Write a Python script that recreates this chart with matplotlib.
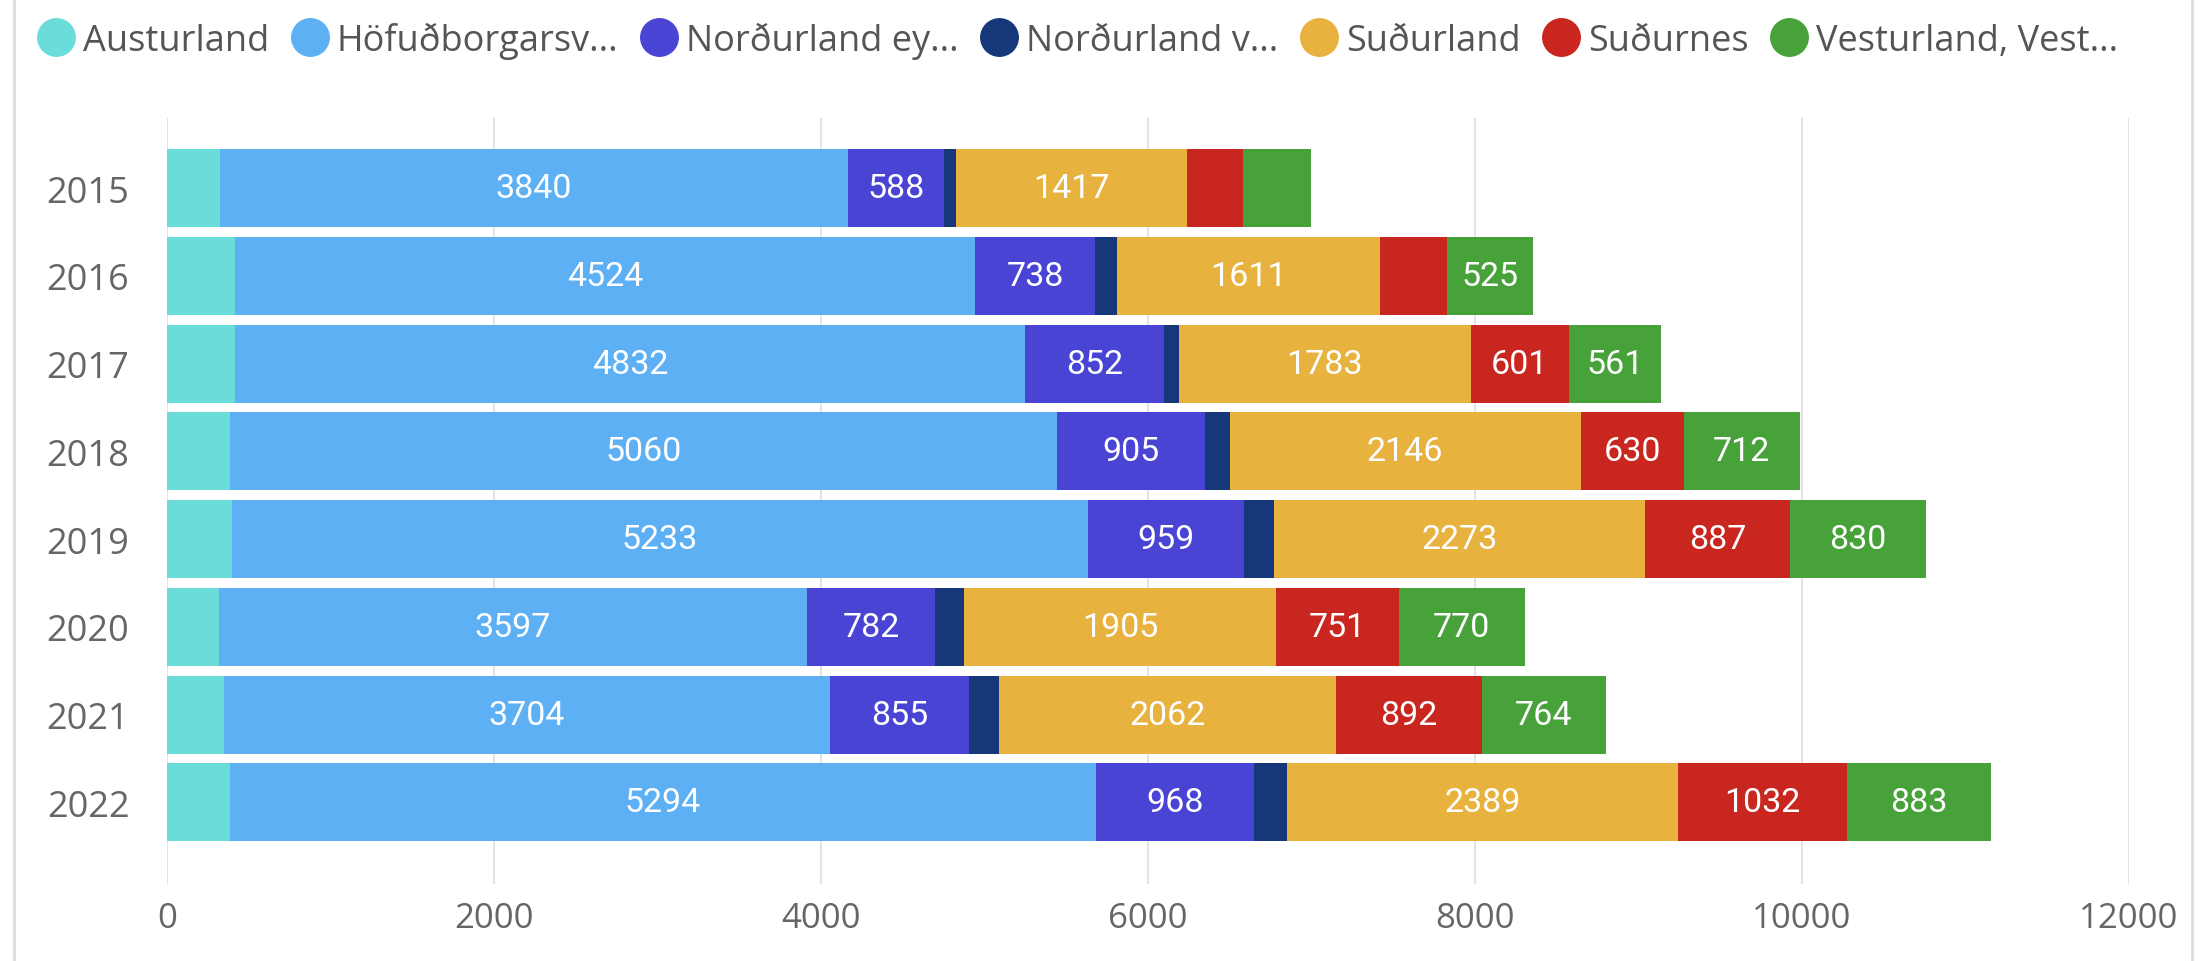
import matplotlib
matplotlib.use("Agg")
import matplotlib.pyplot as plt
from matplotlib.lines import Line2D
import numpy as np

years = ["2015", "2016", "2017", "2018", "2019", "2020", "2021", "2022"]
series_names = ["Austurland", "Höfuðborgarsv...", "Norðurland ey...", "Norðurland v...",
                "Suðurland", "Suðurnes", "Vesturland, Vest..."]
austurland = [325, 416, 416, 385, 397, 318, 349, 385]
hofudborg = [3840, 4524, 4832, 5060, 5233, 3597, 3704, 5294]
nordurland_ey = [588, 738, 852, 905, 959, 782, 855, 968]
nordurland_v = [70, 132, 90, 150, 180, 180, 178, 205]
sudurland = [1417, 1611, 1783, 2146, 2273, 1905, 2062, 2389]
sudurnes = [340, 410, 601, 630, 887, 751, 892, 1032]
vesturland = [414, 525, 561, 712, 830, 770, 764, 883]
colors = ["#6ADCD9", "#5EB0F5", "#4A44D4", "#16387A", "#E8B23F", "#C8261E", "#48A23A"]
x_ticks = [0, 2000, 4000, 6000, 8000, 10000, 12000]

data = [austurland, hofudborg, nordurland_ey, nordurland_v, sudurland, sudurnes, vesturland]

W, H = 2203, 962
fig = plt.figure(figsize=(W / 100, H / 100), dpi=100)
fig.patch.set_facecolor("white")
ax = fig.add_axes([167 / W, 1 - 885 / H, (2129 - 167) / W, (885 - 119) / H])

y = np.arange(len(years))
left = np.zeros(len(years))
for name, vals, col in zip(series_names, data, colors):
    vals = np.array(vals, dtype=float)
    ax.barh(y, vals, left=left, height=0.89, color=col, edgecolor="none", zorder=3)
    for yi, l, v in zip(y, left, vals):
        if v >= 500:
            ax.text(l + v / 2, yi, f"{int(v)}", ha="center", va="center", color="white",
                    fontsize=24.5, family="Roboto", zorder=4)
    left += vals

ax.set_xlim(0, 12000)
ax.set_ylim(7.93, -0.80)
ax.set_yticks(y)
ax.set_yticklabels(years)
ax.set_xticks(x_ticks)
ax.set_xticklabels([str(t) for t in x_ticks])
ax.tick_params(axis="both", length=0, labelcolor="#666666")
ax.tick_params(axis="x", pad=12, labelsize=25)
ax.tick_params(axis="y", pad=27, labelsize=26)
for lab in ax.get_xticklabels() + ax.get_yticklabels():
    lab.set_family("Open Sans")
ax.grid(axis="x", color="#E4E4E4", linewidth=1.5, zorder=0)
for s in ax.spines.values():
    s.set_visible(False)

handles = [Line2D([0], [0], marker="o", color="none", markerfacecolor=c, markeredgecolor=c,
                  markersize=27) for c in colors]
leg = fig.legend(handles, series_names, loc="center left", bbox_to_anchor=(37 / W, 1 - 41 / H),
                 ncol=7, frameon=False, handlelength=1.05, handletextpad=0.22, columnspacing=0.6,
                 borderpad=0, borderaxespad=0,
                 prop={"family": "Open Sans", "size": 26})
for t in leg.get_texts():
    t.set_color("#555555")

fig.add_artist(Line2D([14 / W, 14 / W], [0, 1], color="#DDDDDD", linewidth=2))
fig.add_artist(Line2D([2192 / W, 2192 / W], [0, 1], color="#DDDDDD", linewidth=2))

fig.savefig("out.png", dpi=100, facecolor="white")
